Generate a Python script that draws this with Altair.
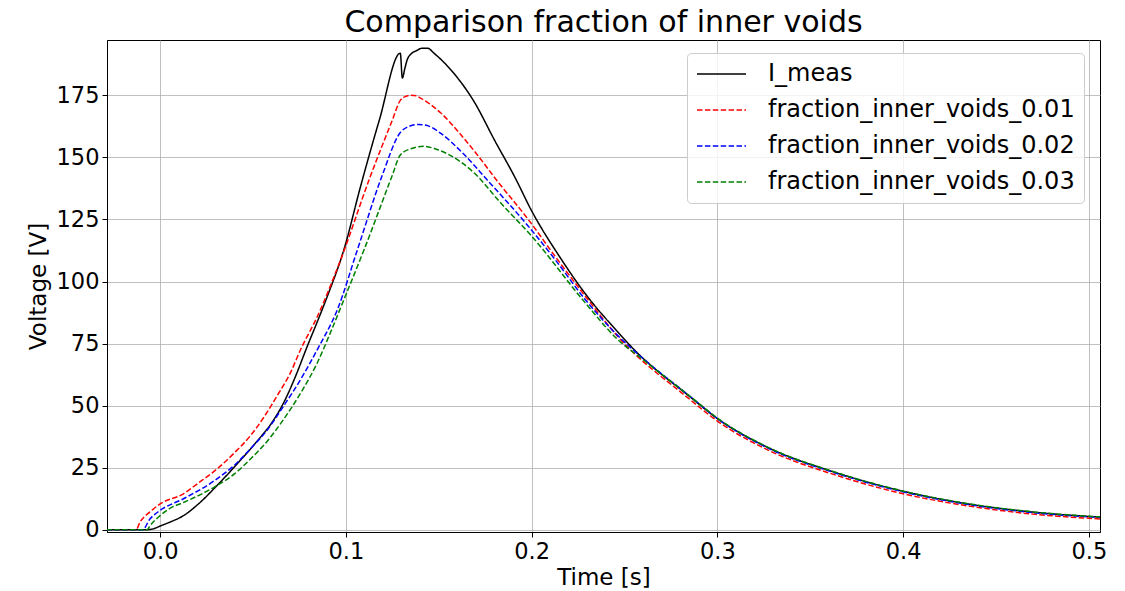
import altair as alt
import pandas as pd

# ---- data ----
t_meas = [-0.029, -0.008, -0.004, 0.0, 0.005, 0.0126, 0.02, 0.0306, 0.0414, 0.052, 0.06, 0.0666,
          0.073, 0.079, 0.085, 0.090, 0.099, 0.1078, 0.118, 0.1293, 0.1304, 0.1318, 0.133, 0.1356,
          0.138, 0.141, 0.144, 0.1474, 0.158, 0.169, 0.18, 0.191, 0.2, 0.2155, 0.23, 0.246, 0.255,
          0.2857, 0.2996, 0.327, 0.363, 0.4, 0.435, 0.47, 0.508]
v_meas = [0.0, 0.0, 0.3, 1.5, 3.0, 5.7, 10.0, 17.8, 26.5, 35.5, 43.0, 51.3,
          62.0, 73.5, 84.5, 94.0, 113.0, 138.0, 165.0, 192.0, 182.0, 186.0, 189.3, 192.0,
          193.0, 194.0, 194.0, 192.0, 184.0, 172.5, 157.0, 142.0, 128.5, 109.5, 94.0, 80.0, 72.7,
          53.3, 45.0, 33.2, 23.2, 15.5, 10.4, 7.1, 5.0]

t_001 = [-0.029, -0.013, -0.0108, -0.005, 0.0, 0.0126, 0.02, 0.0306, 0.04, 0.0486, 0.056, 0.063,
         0.07, 0.0757, 0.0847, 0.0973, 0.1132, 0.125, 0.1293, 0.132, 0.1347, 0.138, 0.14, 0.151,
         0.1617, 0.1706, 0.1815, 0.1982, 0.2126, 0.2288, 0.2461, 0.2839, 0.3, 0.327, 0.363, 0.4,
         0.435, 0.47, 0.508]
v_001 = [0.0, 0.0, 3.1, 7.5, 10.4, 14.5, 18.5, 24.5, 31.0, 37.9, 45.5, 54.0,
         63.0, 72.7, 86.0, 109.0, 142.4, 165.0, 173.0, 174.5, 175.0, 174.8, 174.0, 168.0,
         159.3, 151.2, 140.5, 125.0, 110.2, 94.2, 78.1, 53.3, 43.8, 32.2, 22.2, 14.5,
         9.6, 6.3, 4.3]

t_002 = [-0.029, -0.0095, -0.0054, 0.0, 0.0126, 0.0306, 0.04, 0.0486, 0.058, 0.0666, 0.076, 0.0847,
         0.0955, 0.1063, 0.1194, 0.1293, 0.134, 0.1392, 0.144, 0.1509, 0.1626, 0.176, 0.1982,
         0.2126, 0.2288, 0.246, 0.26, 0.2857, 0.3, 0.327, 0.363, 0.4, 0.435, 0.47, 0.508]
v_002 = [0.0, 0.0, 4.4, 7.8, 12.5, 20.5, 26.0, 32.6, 40.5, 50.0, 61.0, 72.7,
         88.8, 113.0, 142.4, 160.0, 162.5, 163.3, 162.8, 159.8, 152.0, 141.0, 122.3,
         108.9, 92.8, 78.5, 69.0, 53.5, 44.8, 33.0, 23.0, 15.3, 10.2, 6.9, 4.9]

t_003 = [-0.029, -0.007, -0.0054, 0.0, 0.005, 0.0126, 0.0306, 0.04, 0.0486, 0.058, 0.0666, 0.076,
         0.0847, 0.092, 0.099, 0.1099, 0.1248, 0.1293, 0.135, 0.1419, 0.148, 0.1545, 0.169, 0.1833,
         0.2, 0.2288, 0.2461, 0.26, 0.2857, 0.3, 0.327, 0.363, 0.4, 0.435, 0.47, 0.508]
v_003 = [0.0, 0.0, 1.7, 5.7, 8.5, 11.0, 17.8, 22.5, 28.5, 36.0, 44.6, 55.5,
         67.4, 80.0, 92.8, 113.0, 142.4, 151.0, 153.5, 154.5, 153.5, 151.5, 143.8, 131.7,
         118.3, 91.5, 76.8, 68.5, 53.5, 45.0, 33.3, 23.3, 15.6, 10.5, 7.2, 5.1]

series_names = ["I_meas", "fraction_inner_voids_0.01", "fraction_inner_voids_0.02", "fraction_inner_voids_0.03"]
series_colors = ["#000000", "#ff0000", "#0000ff", "#008000"]
series_dashes = [[1, 0], [5.5, 2.4], [5.5, 2.4], [5.5, 2.4]]

x_ticks = [0.0, 0.1, 0.2, 0.3, 0.4, 0.5]
y_ticks = [0, 25, 50, 75, 100, 125, 150, 175]

rows = []
for name, ts, vs in zip(series_names, [t_meas, t_001, t_002, t_003], [v_meas, v_001, v_002, v_003]):
    for i, (t, v) in enumerate(zip(ts, vs)):
        rows.append({"series": name, "time": t, "voltage": v, "order": i})
df = pd.DataFrame(rows)

FONT = "DejaVu Sans"


def make_legend():
    return alt.Legend(title=None, orient="none", legendX=580, legendY=13,
                      symbolType="stroke", symbolSize=2401, symbolStrokeWidth=1.5,
                      clipHeight=24,
                      labelFont=FONT, labelFontSize=24, labelColor="black",
                      labelOffset=21, rowPadding=12, padding=9,
                      fillColor="rgba(255,255,255,0.8)", strokeColor="#cccccc",
                      cornerRadius=4, labelLimit=500)


chart = alt.Chart(df).mark_line(strokeWidth=1.5, clip=True, interpolate="monotone").encode(
    x=alt.X("time:Q",
            scale=alt.Scale(domain=[-0.0286, 0.506], nice=False, zero=False),
            axis=alt.Axis(title="Time [s]", values=x_ticks, format=".1f")),
    y=alt.Y("voltage:Q",
            scale=alt.Scale(domain=[-0.9, 197.3], nice=False, zero=False),
            axis=alt.Axis(title="Voltage [V]", values=y_ticks, format="d")),
    color=alt.Color("series:N",
                    scale=alt.Scale(domain=series_names, range=series_colors),
                    legend=make_legend()),
    strokeDash=alt.StrokeDash("series:N",
                              scale=alt.Scale(domain=series_names, range=series_dashes),
                              legend=make_legend()),
    order="order:Q",
).properties(
    width=993,
    height=492,
    title=alt.TitleParams("Comparison fraction of inner voids", font=FONT, fontSize=30,
                          fontWeight="normal", color="black", anchor="middle", offset=2),
    autosize=alt.AutoSizeParams(type="none"),
    padding={"left": 107, "top": 40, "right": 25, "bottom": 59},
    background="white",
).configure_axis(
    labelFont=FONT, labelFontSize=22.5, labelColor="black",
    titleFont=FONT, titleFontSize=23, titleFontWeight="normal", titleColor="black",
    gridColor="#b0b0b0", gridWidth=0.8, gridOpacity=1,
    domainColor="black", domainWidth=1,
    tickColor="black", tickSize=5, tickWidth=1,
    labelPadding=3, titlePadding=4,
).configure_axisY(titlePadding=6).configure_view(stroke="black", strokeWidth=1)

chart.save("out.html", embed_options={"renderer": "svg", "actions": False})
